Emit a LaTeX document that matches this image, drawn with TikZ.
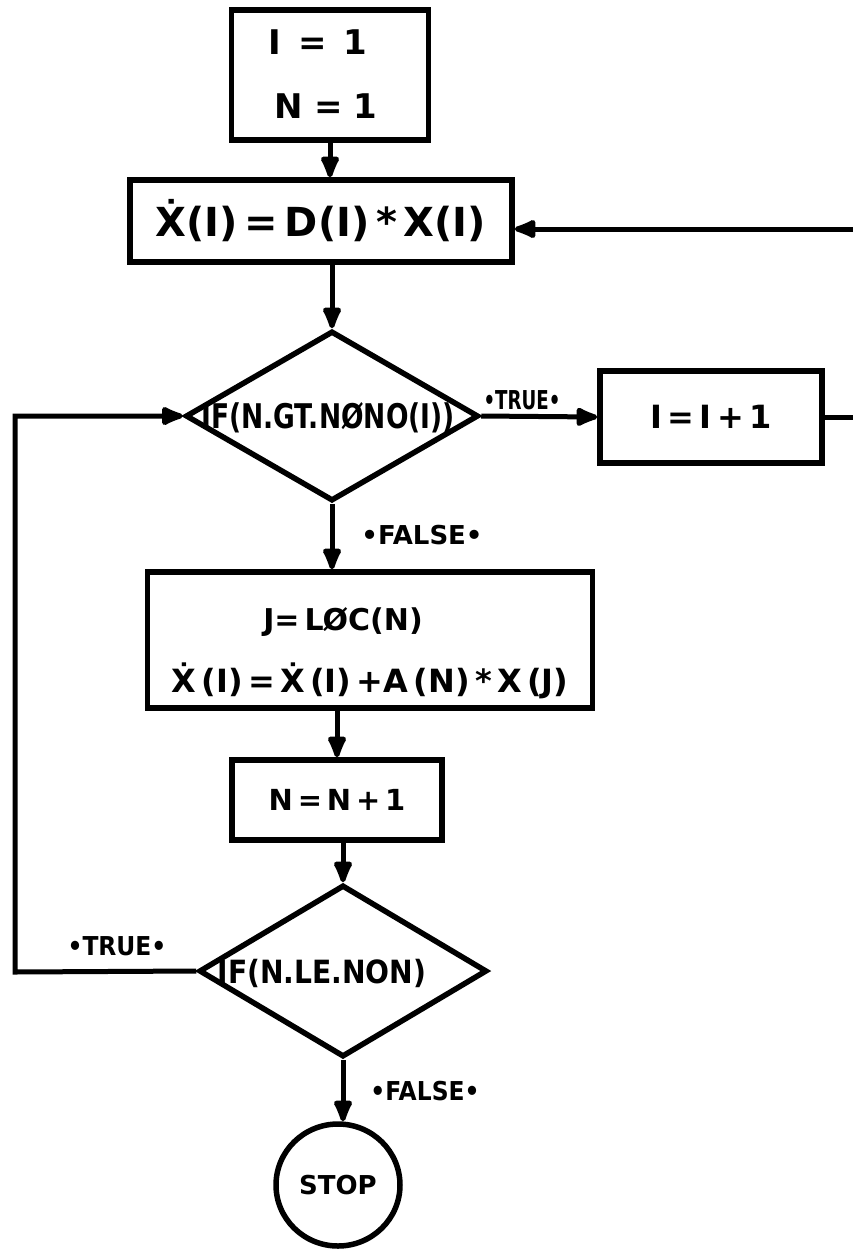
\documentclass[tikz,border=0pt]{standalone}
\usepackage{fontspec}
\setmainfont{DejaVu Sans}
\usetikzlibrary{shapes.geometric,arrows.meta}
\newcommand{\cnd}[2]{\scalebox{#1}[1]{#2}}
\begin{document}
\begin{tikzpicture}[x=1pt,y=-1pt,
  every node/.style={font=\bfseries},
  box/.style={draw,line width=5.5pt,inner sep=0,minimum width=#1},
  dia/.style={draw,diamond,line width=5.5pt,inner sep=0,aspect=1.7},
  con/.style={line width=5pt},
  arr/.style={con,-{Latex[length=28pt,width=22pt,round]}},
  lab/.style={font=\bfseries\fontsize{26}{28}\selectfont,inner sep=0}]
\useasboundingbox (0,0) rectangle (853,1256);

% nodes
\node[box=197pt,minimum height=130pt] (b1) at (330,75) {};
\node[font=\bfseries\fontsize{34}{36}\selectfont] (t1a) at (318,42) {I\,\,\,=\,\,\,1};
\node[font=\bfseries\fontsize{34}{36}\selectfont] (t1b) at (326,106) {N\,\,=\,\,1};

\node[box=382pt,minimum height=82pt,font=\bfseries\fontsize{40}{42}\selectfont] (b2) at (321,221) {Ẋ(I)\,=\,D(I)\,*\,X(I)};

\node[dia,minimum width=293pt,minimum height=170pt] (d1) at (332,416) {};
\node[font=\bfseries\fontsize{34}{36}\selectfont,inner sep=0] (t2) at (328,418) {\cnd{0.78}{IF(N.GT.NØNO(I))}};

\node[box=222pt,minimum height=92pt,font=\bfseries\fontsize{32}{34}\selectfont] (b5) at (711,417) {I\,=\,I\,+\,1};

\node[box=445pt,minimum height=136pt] (b3) at (370,640) {};
\node[font=\bfseries\fontsize{30}{32}\selectfont,inner sep=0] (t3a) at (343,622) {J=\,LØC(N)};
\node[font=\bfseries\fontsize{32}{34}\selectfont,inner sep=0] (t3b) at (370,681) {Ẋ\,(I)\,=\,Ẋ\,(I)\,+A\,(N)\,*\,X\,(J)};

\node[box=210pt,minimum height=80pt,font=\bfseries\fontsize{29}{31}\selectfont] (b4) at (337,800) {N\,=\,N\,+\,1};

\node[dia,minimum width=288pt,minimum height=172pt] (d2) at (343,971) {};
\node[font=\bfseries\fontsize{32}{34}\selectfont,inner sep=0] (t4) at (322,973) {\cnd{0.88}{IF(N.LE.NON)}};

\node[draw,ellipse,line width=5.5pt,minimum width=124pt,minimum height=122pt,inner sep=0,font=\bfseries\fontsize{26}{28}\selectfont] (st) at (338,1185) {STOP};

% labels
\node[lab] (lt1) at (522,400) {\cnd{0.7}{•TRUE•}};
\node[lab] (lf1) at (422,535) {•FALSE•};
\node[lab] (lt2) at (117,946) {\cnd{0.9}{•TRUE•}};
\node[lab] (lf2) at (425,1091) {\cnd{0.9}{•FALSE•}};

% edge coordinates
\coordinate (r1) at (853,229);
\coordinate (r2) at (853,417);
\coordinate (l1) at (15,416);
\coordinate (l2) at (15,972);

% connectors
\draw[arr] (b1.south) -- (b1.south |- b2.north);
\draw[arr] (d1.north |- b2.south) -- (d1.north);
\draw[arr] (d1.south) -- (d1.south |- b3.north);
\draw[arr] (b4.north |- b3.south) -- (b4.north);
\draw[arr] (d2.north |- b4.south) -- (d2.north);
\draw[arr] (d2.south) -- (d2.south |- st.north);
\draw[arr] (d1.east) -- (b5.west);
\draw[con] (b5.east) -- (r2);
\draw[arr] (r1) -- (r1 -| b2.east);
\draw[arr,line join=miter] (d2.west) -- (l2) -- (l1) -- (d1.west);
\end{tikzpicture}
\end{document}
